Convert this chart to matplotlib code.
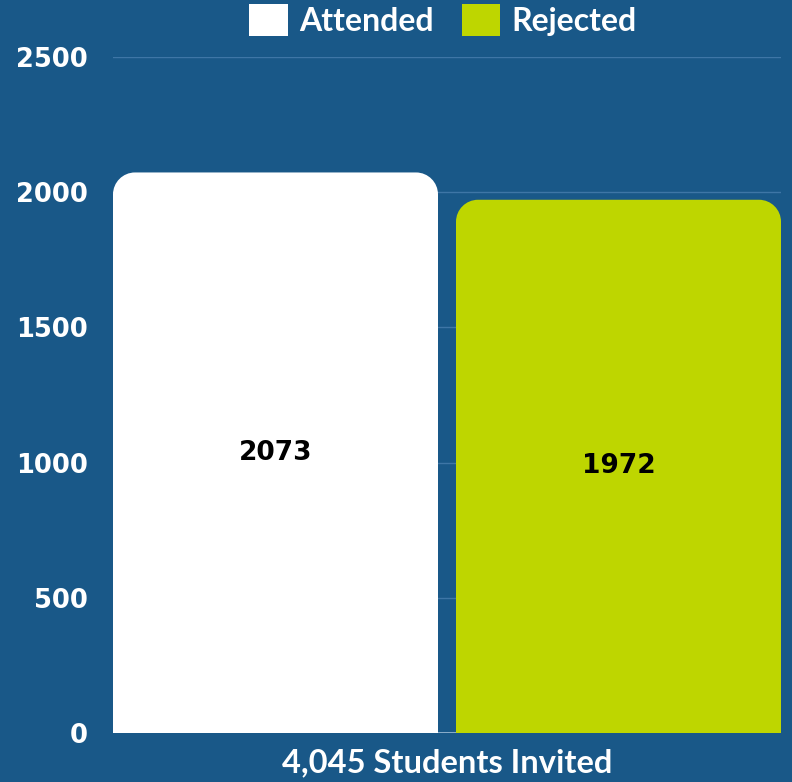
import matplotlib
matplotlib.use("Agg")
import matplotlib.pyplot as plt
from matplotlib.path import Path
from matplotlib.patches import PathPatch, Patch

# data
categories = ["Attended", "Rejected"]
values = [2073, 1972]
colors = ["#ffffff", "#bed600"]
x_label = "4,045 Students Invited"
yticks = [0, 500, 1000, 1500, 2000, 2500]

bg = "#195888"
plt.rcParams['font.family'] = ['Lato', 'DejaVu Sans']
num_font = ['DejaVu Sans']

W, H = 792, 782
fig = plt.figure(figsize=(W / 100, H / 100), dpi=100, facecolor=bg)
ax = fig.add_axes([113 / W, (H - 733) / H, 668 / W, 676 / H])
ax.set_facecolor(bg)

width = 0.9475
xlim = (-width / 2, 1 + width / 2)
ax.set_xlim(*xlim)
ax.set_ylim(0, 2500)

# grid
for t in yticks[1:]:
    ax.axhline(t, color="#3e76a6", lw=1, zorder=0)
ax.axhline(0, color="#9fbcd6", lw=1.2, zorder=0)

bars = ax.bar(range(len(values)), values, width=width, color=colors)

# rounded top corners (radius in pixels converted to data units)
r_px = 22
px_x = 668 / (xlim[1] - xlim[0])
px_y = 676 / 2500
rx, ry = r_px / px_x, r_px / px_y
k = 0.5523
for b, c in zip(bars, colors):
    x0, y0 = b.get_x(), b.get_y()
    x1, y1 = x0 + b.get_width(), y0 + b.get_height()
    b.set_visible(False)
    verts = [
        (x0, y0), (x0, y1 - ry),
        (x0, y1 - ry + k * ry), (x0 + rx - k * rx, y1), (x0 + rx, y1),
        (x1 - rx, y1),
        (x1 - rx + k * rx, y1), (x1, y1 - ry + k * ry), (x1, y1 - ry),
        (x1, y0), (x0, y0),
    ]
    codes = [Path.MOVETO, Path.LINETO,
             Path.CURVE4, Path.CURVE4, Path.CURVE4,
             Path.LINETO,
             Path.CURVE4, Path.CURVE4, Path.CURVE4,
             Path.LINETO, Path.CLOSEPOLY]
    ax.add_patch(PathPatch(Path(verts, codes), facecolor=c, edgecolor="none", zorder=2))
    ax.text(b.get_x() + b.get_width() / 2, y1 / 2, str(int(y1)),
            ha="center", va="center", fontsize=19, fontweight="bold",
            family=num_font, color="black", zorder=3)

ax.set_yticks(yticks)
ax.set_yticklabels([str(t) for t in yticks], fontsize=18.5, fontweight="bold",
                   color="white", family=num_font)
ax.tick_params(axis="y", length=0, pad=18)
ax.set_xticks([])
for s in ax.spines.values():
    s.set_visible(False)

fig.text(447 / W, 1 - 763 / H, x_label, ha="center", va="center",
         fontsize=23.5, fontweight="bold", color="white")

handles = [Patch(facecolor=c, edgecolor="none") for c in colors]
leg = fig.legend(handles, categories, loc="center", bbox_to_anchor=(443 / W, 1 - 20 / H),
                 ncol=2, frameon=False, fontsize=23, handlelength=1.2, handleheight=1.2,
                 handletextpad=0.35, columnspacing=0.9, borderpad=0)
for t in leg.get_texts():
    t.set_color("white")
    t.set_fontweight("bold")

fig.savefig("out.png", dpi=100, facecolor=bg)
